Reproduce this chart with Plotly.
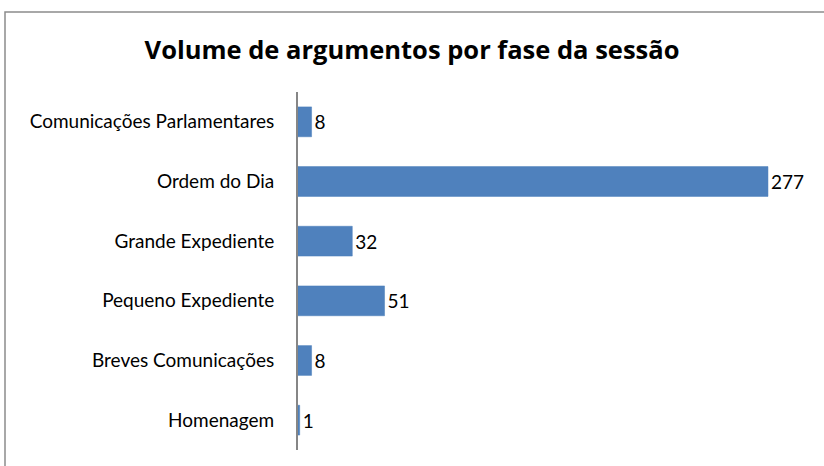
import plotly.graph_objects as go

# data
fases = ["Comunicações Parlamentares", "Ordem do Dia", "Grande Expediente",
         "Pequeno Expediente", "Breves Comunicações", "Homenagem"]
argumentos = [8, 277, 32, 51, 8, 1]

W, H = 824, 466
ml, mr, mt, mb = 298, 17, 92, 16
fonte = "Lato, Calibri, sans-serif"

fig = go.Figure(go.Bar(
    y=fases, x=argumentos, orientation="h",
    marker=dict(color="#4F81BD", line=dict(color="#4A7EBB", width=0.5)),
    text=argumentos, textposition="outside", cliponaxis=False,
    textfont=dict(family=fonte, size=19, color="black"),
))

# moldura cinza do gráfico, em coordenadas paper
pw, ph = W - ml - mr, H - mt - mb
def px(x): return (x - ml) / pw
def py(y): return (H - mb - y) / ph
fig.add_shape(type="rect", xref="paper", yref="paper",
              x0=px(5), x1=px(830), y0=py(472), y1=py(12),
              line=dict(color="#8C8C8C", width=1.5), layer="below")

fig.update_layout(
    width=W, height=H,
    margin=dict(l=ml, r=mr, t=mt, b=mb),
    paper_bgcolor="white", plot_bgcolor="white",
    bargap=0.5, showlegend=False,
    title=dict(text="<b>Volume de argumentos por fase da sessão</b>",
               x=0.5, xanchor="center", y=0.892, yanchor="middle",
               font=dict(family="Open Sans, sans-serif", size=25.5, color="black")),
    font=dict(family=fonte, size=19, color="black"),
    xaxis=dict(range=[0, 300], visible=False, showgrid=False, zeroline=False),
    yaxis=dict(autorange="reversed", showline=True, linecolor="#868686", linewidth=2,
               ticks="", ticklen=0, ticklabelstandoff=18, showgrid=False),
)

fig.write_html("out.html", config={"displayModeBar": False},
               post_script="document.body.style.margin='0';")
